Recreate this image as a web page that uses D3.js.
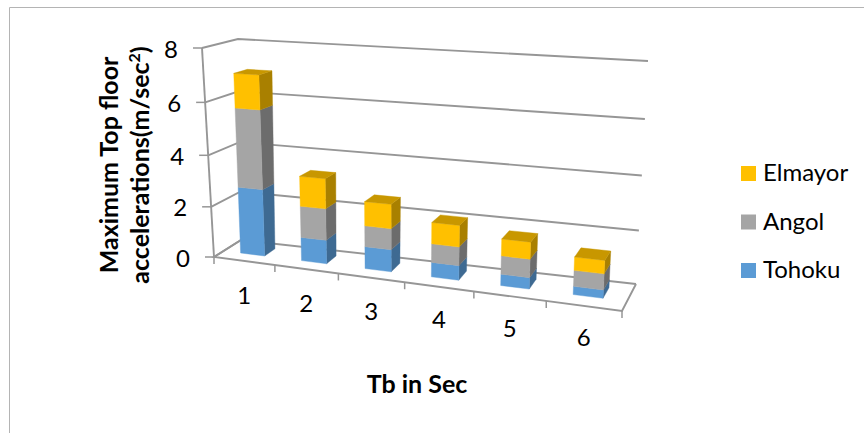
<!DOCTYPE html>
<html>
<head>
<meta charset="utf-8">
<script src="https://cdn.jsdelivr.net/npm/d3@7"></script>
<style>
html,body{margin:0;padding:0;background:#fff}
svg{display:block}
text{font-family:Lato,"Open Sans",sans-serif;fill:#000}
</style>
</head>
<body>
<svg id="chart" width="864" height="433"></svg>
<script>
const categories = ["1","2","3","4","5","6"];
const tohoku  = [2.63, 0.92, 0.85, 0.55, 0.42, 0.30];
const angol   = [3.05, 1.22, 0.80, 0.70, 0.68, 0.58];
const elmayor = [1.30, 1.15, 0.92, 0.80, 0.62, 0.48];
const valueTicks = [0, 2, 4, 6, 8];
const seriesNames = ["Tohoku", "Angol", "Elmayor"];
const seriesValues = [tohoku, angol, elmayor];
const faceColors = {
  Tohoku:  {front:"#5B9BD5", side:"#3E6A92", top:"#4F86B8"},
  Angol:   {front:"#A5A5A5", side:"#6C6C6C", top:"#8E8E8E"},
  Elmayor: {front:"#FFC000", side:"#A98000", top:"#C89700"}
};

const svg = d3.select("#chart");

// Corners of the 3-D plot box on screen: [u, value, depth]
const box = {
  f00:[214,257], f10:[622,311], b00:[241,240], b10:[636,284],
  f01:[202,48],  f11:[633,70],  b01:[238,39],  b11:[648,61]
};

// Foreshortening along each box axis
const warp = r => s => s / (s + (1 - s) * r);
const warpU = warp(1.14), warpV = warp(1.055);

const uScale = d3.scaleLinear().domain([0, categories.length]).range([0, 1]);
const vScale = d3.scaleLinear().domain([0, 8]).range([0, 1]);

const lerp = (a, b, t) => [a[0] + (b[0] - a[0]) * t, a[1] + (b[1] - a[1]) * t];
function project(u, value, depth) {
  const s = warpU(uScale(u)), t = warpV(vScale(value));
  const front = lerp(lerp(box.f00, box.f10, s), lerp(box.f01, box.f11, s), t);
  const back  = lerp(lerp(box.b00, box.b10, s), lerp(box.b01, box.b11, s), t);
  return lerp(front, back, depth);
}

const path = d3.line();
const axisColor = "#969696";
const plot = svg.append("g");

// Chart frame
svg.append("path").attr("d", "M9.5,433V7.5H864").attr("fill", "none").attr("stroke", "#b4b4b4").attr("stroke-width", 1);

// Side wall and back wall gridlines
valueTicks.forEach(v => {
  plot.append("path").attr("fill", "none").attr("stroke", axisColor).attr("stroke-width", 1.9)
    .attr("d", path([project(0, v, 0), project(0, v, 1), project(categories.length, v, 1)]));
  const p = project(0, v, 0);
  plot.append("line").attr("x1", p[0] - 9).attr("y1", p[1]).attr("x2", p[0]).attr("y2", p[1])
    .attr("stroke", axisColor).attr("stroke-width", 1.5);
  svg.append("text").attr("x", p[0] - 31).attr("y", p[1] + 9.5)
    .attr("text-anchor", "middle").attr("font-size", 24).text(v);
});

// Floor outline and vertical axis
plot.append("path").attr("fill", "none").attr("stroke", axisColor).attr("stroke-width", 1.9)
  .attr("d", path([project(0, 0, 1), project(0, 0, 0), project(categories.length, 0, 0), project(categories.length, 0, 1)]));
plot.append("path").attr("fill", "none").attr("stroke", axisColor).attr("stroke-width", 1.9)
  .attr("d", path([project(0, 0, 0), project(0, 8, 0)]));

// Category ticks along the front edge
d3.range(categories.length + 1).forEach(i => {
  const p = project(i, 0, 0);
  plot.append("line").attr("x1", p[0]).attr("y1", p[1]).attr("x2", p[0]).attr("y2", p[1] + 7)
    .attr("stroke", axisColor).attr("stroke-width", 1.5);
});

// Stacked 3-D columns
const u0 = 0.285, u1 = 0.685, w0 = 0.36, w1 = 0.76;
categories.forEach((c, i) => {
  let base = 0;
  const g = plot.append("g");
  seriesNames.forEach((name, k) => {
    const top = base + seriesValues[k][i];
    const col = faceColors[name];
    const quad = (pts, fill) => g.append("path").attr("fill", fill)
      .attr("stroke", fill).attr("stroke-width", 0.4).attr("d", path(pts) + "Z");
    quad([project(i + u1, base, w0), project(i + u1, base, w1), project(i + u1, top, w1), project(i + u1, top, w0)], col.side);
    quad([project(i + u0, base, w0), project(i + u1, base, w0), project(i + u1, top, w0), project(i + u0, top, w0)], col.front);
    if (k === seriesNames.length - 1)
      quad([project(i + u0, top, w0), project(i + u1, top, w0), project(i + u1, top, w1), project(i + u0, top, w1)], col.top);
    base = top;
  });
  const lp = project(i + 0.5, 0, 0);
  svg.append("text").attr("x", lp[0]).attr("y", lp[1] + 43 - i * 0.5)
    .attr("text-anchor", "middle").attr("font-size", 24).text(c);
});

// Axis titles
svg.append("text").attr("x", 417).attr("y", 393).attr("text-anchor", "middle")
  .attr("font-size", 25).attr("font-weight", 700).text("Tb in Sec");
const yt = svg.append("text").attr("transform", "translate(118,165) rotate(-90)")
  .attr("text-anchor", "middle").attr("font-size", 25).attr("font-weight", 700);
yt.append("tspan").attr("x", 0).attr("y", 0).text("Maximum Top floor");
yt.append("tspan").attr("x", 0).attr("y", 31).text("accelerations(m/sec");
yt.append("tspan").attr("dy", -9).attr("font-size", 16).text("2");
yt.append("tspan").attr("dy", 9).text(")");

// Legend
const legendY = d3.scalePoint().domain(["Elmayor", "Angol", "Tohoku"]).range([173.5, 270.5]);
legendY.domain().forEach(name => {
  svg.append("rect").attr("x", 741).attr("y", legendY(name) - 7.5).attr("width", 15).attr("height", 15)
    .attr("fill", faceColors[name].front);
  svg.append("text").attr("x", 763).attr("y", legendY(name) + 7.5).attr("font-size", 24).text(name);
});
</script>
</body>
</html>
